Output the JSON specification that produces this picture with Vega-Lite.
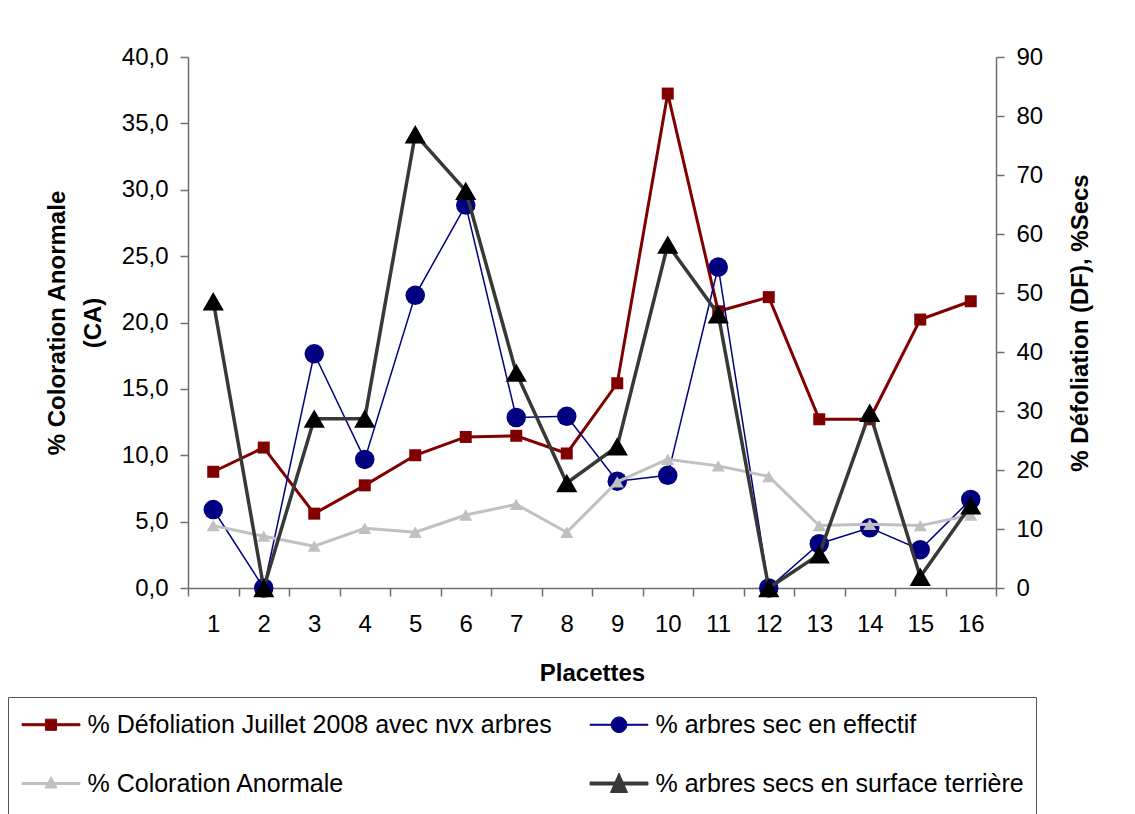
{
  "$schema": "https://vega.github.io/schema/vega-lite/v6.json",
  "autosize": {"type": "none"},
  "padding": {"left": 188, "top": 57, "right": 139, "bottom": 226},
  "width": 808,
  "height": 531,
  "background": "white",
  "config": {
    "view": {"stroke": null},
    "font": "Liberation Sans",
    "axis": {
      "domainColor": "#6e6e6e",
      "tickColor": "#6e6e6e",
      "domainWidth": 1.5,
      "tickWidth": 1.5,
      "tickSize": 8,
      "grid": false,
      "labelFont": "Liberation Sans",
      "labelFontSize": 24,
      "labelColor": "#000000",
      "labelPadding": 12,
      "titleFont": "Liberation Sans",
      "titleFontSize": 24,
      "titleFontWeight": "bold",
      "titleColor": "#000000"
    }
  },
  "data": {
    "values": [
      {"p": 1, "def": 19.7, "eff": 13.3, "ca": 4.7, "st": 48.6},
      {"p": 2, "def": 23.8, "eff": 0, "ca": 3.9, "st": 0},
      {"p": 3, "def": 12.6, "eff": 39.7, "ca": 3.15, "st": 28.7},
      {"p": 4, "def": 17.4, "eff": 21.8, "ca": 4.5, "st": 28.7},
      {"p": 5, "def": 22.5, "eff": 49.6, "ca": 4.2, "st": 76.9},
      {"p": 6, "def": 25.6, "eff": 64.9, "ca": 5.5, "st": 67.3},
      {"p": 7, "def": 25.8, "eff": 28.9, "ca": 6.3, "st": 36.5},
      {"p": 8, "def": 22.8, "eff": 29.1, "ca": 4.2, "st": 17.8},
      {"p": 9, "def": 34.7, "eff": 18.1, "ca": 8.0, "st": 24.0},
      {"p": 10, "def": 83.8, "eff": 19.1, "ca": 9.7, "st": 58.2},
      {"p": 11, "def": 46.9, "eff": 54.4, "ca": 9.2, "st": 46.4},
      {"p": 12, "def": 49.3, "eff": 0, "ca": 8.4, "st": 0},
      {"p": 13, "def": 28.6, "eff": 7.5, "ca": 4.7, "st": 5.7},
      {"p": 14, "def": 28.6, "eff": 10.2, "ca": 4.8, "st": 29.7},
      {"p": 15, "def": 45.5, "eff": 6.5, "ca": 4.7, "st": 1.9},
      {"p": 16, "def": 48.6, "eff": 15.0, "ca": 5.5, "st": 14.0}
    ]
  },
  "encoding": {
    "x": {
      "field": "p",
      "type": "ordinal",
      "bandPosition": 0.5,
      "scale": {"type": "band", "paddingInner": 0, "paddingOuter": 0},
      "axis": {
        "title": "Placettes",
        "labelAngle": 0,
        "labelPadding": 16,
        "titlePadding": 25,
        "tickBand": "extent"
      }
    }
  },
  "layer": [
    {
      "mark": {"type": "line", "strokeWidth": 3, "point": {"shape": "square", "size": 144, "filled": true, "opacity": 1}},
      "encoding": {
        "y": {
          "field": "def",
          "type": "quantitative",
          "scale": {"domain": [0, 90], "nice": false, "zero": true},
          "axis": {
            "orient": "right",
            "title": "% Défoliation (DF), %Secs",
            "values": [0, 10, 20, 30, 40, 50, 60, 70, 80, 90],
            "format": "d",
            "titleAngle": 270,
            "titleBaseline": "top",
            "titlePadding": 26
          }
        },
        "color": {
          "datum": "% Défoliation Juillet 2008 avec nvx arbres",
          "type": "nominal",
          "scale": {
            "domain": ["% Défoliation Juillet 2008 avec nvx arbres", "% arbres sec en effectif", "% Coloration Anormale", "% arbres secs en surface terrière"],
            "range": ["#800000", "#000080", "#c0c0c0", "#383838"]
          },
          "legend": {
            "orient": "none",
            "legendX": -180,
            "legendY": 640,
            "direction": "horizontal",
            "columns": 2,
            "gridAlign": "all",
            "title": " ",
            "titleOrient": "bottom",
            "titleFontSize": 24,
            "titlePadding": 10,
            "symbolSize": 900,
            "symbolStrokeWidth": 1,
            "symbolOffset": 15.5,
            "labelOffset": 21,
            "columnPadding": 36,
            "rowPadding": 30,
            "labelFont": "Liberation Sans",
            "labelFontSize": 25,
            "labelColor": "#000000",
            "labelLimit": 1000,
            "strokeColor": "#555555",
            "padding": 12,
            "encode": {
              "symbols": {
                "update": {
                  "shape": {"signal": "['M-1.93,-0.067H1.93V0.067H-1.93ZM-0.37,-0.37H0.37V0.37H-0.37Z','M-1.93,-0.033H1.93V0.033H-1.93ZM0.52,0A0.52,0.52,0,1,1,-0.52,0A0.52,0.52,0,1,1,0.52,0Z','M-1.93,-0.067H1.93V0.067H-1.93ZM0,-0.45L0.4,0.3L-0.4,0.3Z','M-1.93,-0.1H1.93V0.1H-1.93ZM0,-0.7L0.57,0.6L-0.57,0.6Z'][datum.index]"},
                  "fill": {"signal": "['#800000','#000080','#c0c0c0','#000000'][datum.index]"},
                  "stroke": {"signal": "['#800000','#000080','#c0c0c0','#000000'][datum.index]"},
                  "opacity": {"value": 1},
                  "fillOpacity": {"value": 1},
                  "strokeOpacity": {"value": 1}
                }
              }
            }
          }
        }
      }
    },
    {
      "mark": {"type": "line", "strokeWidth": 1.5, "point": {"shape": "circle", "size": 380, "filled": true, "opacity": 1}},
      "encoding": {
        "y": {"field": "eff", "type": "quantitative", "scale": {"domain": [0, 90], "nice": false}, "axis": null},
        "color": {"datum": "% arbres sec en effectif", "type": "nominal"}
      }
    },
    {
      "mark": {"type": "line", "strokeWidth": 3, "point": {"shape": "triangle-up", "size": 170, "filled": true, "opacity": 1}},
      "encoding": {
        "y": {
          "field": "ca",
          "type": "quantitative",
          "scale": {"domain": [0, 40], "nice": false},
          "axis": {
            "orient": "left",
            "title": ["% Coloration Anormale", "(CA)"],
            "values": [0, 5, 10, 15, 20, 25, 30, 35, 40],
            "labelExpr": "replace(format(datum.value, '.1f'), '.', ',')",
            "titlePadding": 16,
            "titleLineHeight": 36
          }
        },
        "color": {"datum": "% Coloration Anormale", "type": "nominal"}
      }
    },
    {
      "mark": {"type": "line", "strokeWidth": 3.5},
      "encoding": {
        "y": {"field": "st", "type": "quantitative", "scale": {"domain": [0, 90], "nice": false}, "axis": null},
        "color": {"datum": "% arbres secs en surface terrière", "type": "nominal"}
      }
    },
    {
      "mark": {"type": "point", "shape": "triangle-up", "size": 450, "filled": true, "fill": "#000000", "opacity": 1},
      "encoding": {
        "y": {"field": "st", "type": "quantitative", "scale": {"domain": [0, 90], "nice": false}, "axis": null}
      }
    }
  ],
  "resolve": {"scale": {"y": "independent"}}
}
